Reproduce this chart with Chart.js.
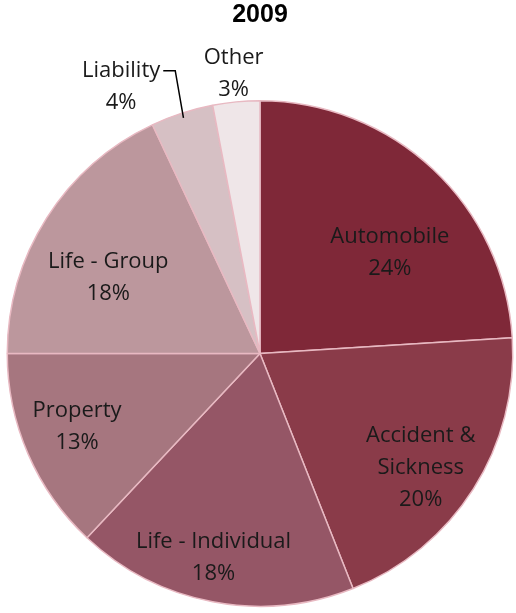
<!DOCTYPE html>
<html>
<head>
<meta charset="utf-8">
<script src="https://cdn.jsdelivr.net/npm/chart.js@4"></script>
<style>
  html, body { margin: 0; padding: 0; background: #fff; }
  #wrap { width: 516px; height: 613px; position: relative; }
</style>
</head>
<body>
<div id="wrap"><canvas id="pieChart"></canvas></div>
<script>
// data
const categories = ['Automobile', 'Accident & Sickness', 'Life - Individual', 'Property', 'Life - Group', 'Liability', 'Other'];
const shares = [24, 20, 18, 13, 18, 4, 3];
const title = '2009';

const sliceColors = ['#7f2838', '#8a3b49', '#955666', '#a6767f', '#bc979d', '#d6c0c4', '#efe6e8'];
// label lines and where they sit (fraction of radius along the slice middle)
const labelLines = [['Automobile'], ['Accident &', 'Sickness'], ['Life - Individual'], ['Property'], ['Life - Group'], ['Liability'], ['Other']];
const labelRadius = [0.65, 0.78, 0.83, 0.78, 0.67, 1.19, 1.11];
const labelTurn = [9, 3, 2, 1.5, -6, -9.5, 0];   // degrees, nudges like Excel's best fit

const sliceLabels = {
    id: 'sliceLabels',
    afterDatasetsDraw(chart) {
        const ctx = chart.ctx;
        const arcs = chart.getDatasetMeta(0).data;
        ctx.save();
        ctx.font = '22px "Open Sans"';
        ctx.fillStyle = '#1a1a1a';
        ctx.textAlign = 'center';
        ctx.textBaseline = 'middle';
        arcs.forEach((arc, i) => {
            const p = arc.getProps(['x', 'y', 'startAngle', 'endAngle', 'outerRadius'], true);
            const mid = (p.startAngle + p.endAngle) / 2 + labelTurn[i] * Math.PI / 180;
            const r = p.outerRadius * labelRadius[i];
            const cx = p.x + Math.cos(mid) * r;
            const cy = p.y + Math.sin(mid) * r;
            const lines = labelLines[i].concat([shares[i] + '%']);
            const step = 32;
            const top = cy - (lines.length - 1) * step / 2;
            lines.forEach((t, k) => ctx.fillText(t, cx, top + k * step));

            // leader line for Liability
            if (categories[i] === 'Liability') {
                const w = ctx.measureText(lines[0]).width;
                const sx = cx + w / 2 + 3;
                const edgeA = (p.startAngle + p.endAngle) / 2;
                const ex = p.x + Math.cos(edgeA) * p.outerRadius * 0.98;
                const ey = p.y + Math.sin(edgeA) * p.outerRadius * 0.98;
                ctx.strokeStyle = '#000';
                ctx.lineWidth = 1.5;
                ctx.beginPath();
                ctx.moveTo(sx, top);
                ctx.lineTo(sx + 12, top);
                ctx.lineTo(ex, ey);
                ctx.stroke();
            }
        });
        ctx.restore();
    }
};

new Chart(document.getElementById('pieChart').getContext('2d'), {
    type: 'pie',
    data: {
        labels: categories,
        datasets: [{
            data: shares,
            backgroundColor: sliceColors,
            borderColor: '#e8b9c2',
            borderWidth: 1.5,
        }],
    },
    options: {
        responsive: true,
        maintainAspectRatio: false,
        animation: false,
        layout: { padding: { left: 6, right: 2, bottom: 6 } },
        plugins: {
            legend: { display: false },
            tooltip: { enabled: false },
            title: {
                display: true,
                text: title,
                color: '#000',
                font: { family: 'Liberation Sans', size: 25, weight: 'bold', lineHeight: 1.2 },
                padding: { top: 0, bottom: 70 },
            },
        },
    },
    plugins: [sliceLabels],
});
</script>
</body>
</html>
